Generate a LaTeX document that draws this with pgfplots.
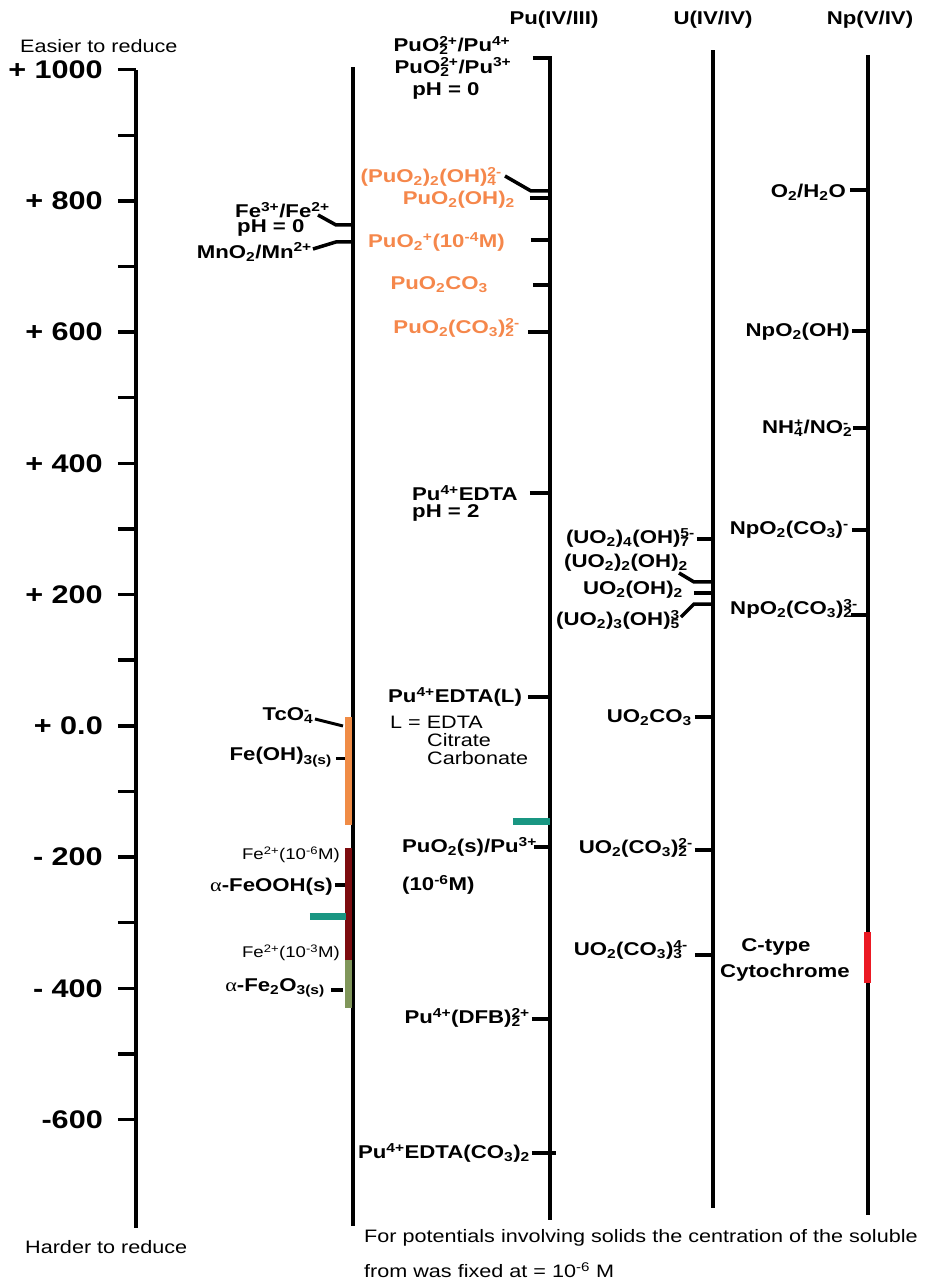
\documentclass[border=0pt]{standalone}
\usepackage{fontspec}
\setmainfont{Liberation Sans}[FakeStretch=1.2]
\newfontfamily\grk{Liberation Serif}[FakeStretch=1.2]
\usepackage{pgfplots}
\pgfplotsset{compat=1.18}

\definecolor{pucol}{RGB}{245,135,75}
\definecolor{barorange}{RGB}{240,140,70}
\definecolor{barred}{RGB}{125,12,15}
\definecolor{barolive}{RGB}{128,150,90}
\definecolor{barteal}{RGB}{25,150,130}
\definecolor{cytred}{RGB}{235,25,35}

\newcommand{\sub}[1]{\textsubscript{#1}}
\newcommand{\sps}[1]{\textsuperscript{#1}}
\newcommand{\subsup}[2]{\rlap{\textsubscript{#1}}\textsuperscript{#2}}

\begin{document}
\begin{tikzpicture}[
  lb/.style={font=\bfseries\fontsize{18.5}{20}\selectfont, inner sep=0pt},
  nm/.style={font=\fontsize{18}{20}\selectfont, inner sep=0pt},
  sm/.style={font=\fontsize{15.5}{17}\selectfont, inner sep=0pt},
  pu/.style={lb, text=pucol},
]
\begin{axis}[
  x=1pt, y=0.65625pt,
  xmin=136, xmax=930, ymin=-765, ymax=1000,
  enlargelimits=false, clip=false,
  axis x line=none, axis y line=left,
  axis line style={-},
  y axis line style={line width=4pt},
  ytick={-600,-400,...,1000},
  yticklabels={-600,- 400,- 200,+ 0.0,+ 200,+ 400,+ 600,+ 800,+ 1000},
  minor ytick={-500,-300,...,900},
  tick align=outside,
  major tick length=18pt, minor tick length=18pt,
  tick style={line width=3.5pt, black},
  yticklabel style={font=\bfseries\fontsize{25.5}{27}\selectfont, inner sep=0pt, anchor=east, xshift=-15pt},
]
% page frame
\coordinate (tl) at (axis cs:0,1106.13);
\coordinate (br) at (axis cs:930,-844.4);

% potential scales for each couple family
\addplot[line width=4pt] coordinates {(353,1004.0) (353,-762.1)};
\addplot[line width=4pt] coordinates {(533,1017.7) (550,1017.7) (550,-752.9)};
\addplot[line width=4pt] coordinates {(713,1029.9) (713,-734.6)};
\addplot[line width=4pt] coordinates {(868,1022.3) (868,-745.3)};

% leader lines and level marks
\addplot[line width=3.5pt] coordinates {(318,778.5) (336,763.3) (353,763.3)};
\addplot[line width=3.5pt] coordinates {(313,726.7) (336,737.4) (353,737.4)};
\addplot[line width=3pt] coordinates {(315,10.5) (343,-0.2)};
\addplot[line width=3.5pt] coordinates {(336,-49.9) (348,-49.9)};
\addplot[line width=3.5pt] coordinates {(335,-242.4) (348,-242.4)};
\addplot[line width=3.5pt] coordinates {(331,-402.4) (343,-402.4)};
\addplot[line width=3.5pt] coordinates {(505,837.9) (531,815.1) (550,815.1)};
\addplot[line width=3.5pt] coordinates {(530,804.4) (550,804.4)};
\addplot[line width=3.5pt] coordinates {(531,740.4) (550,740.4)};
\addplot[line width=3.5pt] coordinates {(533,671.8) (550,671.8)};
\addplot[line width=3.5pt] coordinates {(528,600.2) (550,600.2)};
\addplot[line width=3.5pt] coordinates {(530,354.9) (550,354.9)};
\addplot[line width=3.5pt] coordinates {(528,44.0) (550,44.0)};
\addplot[line width=3.5pt] coordinates {(534,-184.5) (550,-184.5)};
\addplot[line width=3.5pt] coordinates {(532,-446.6) (550,-446.6)};
\addplot[line width=3.5pt] coordinates {(532,-651.0) (556,-651.0)};
\addplot[line width=3.5pt] coordinates {(697,284.8) (713,284.8)};
\addplot[line width=3.5pt] coordinates {(679,233.0) (694,219.3) (713,219.3)};
\addplot[line width=3.5pt] coordinates {(694,202.5) (713,202.5)};
\addplot[line width=3.5pt] coordinates {(681,165.9) (694,185.7) (713,185.7)};
\addplot[line width=3.5pt] coordinates {(695,13.6) (713,13.6)};
\addplot[line width=3.5pt] coordinates {(695,-189.1) (713,-189.1)};
\addplot[line width=3.5pt] coordinates {(695,-349.1) (713,-349.1)};
\addplot[line width=3.5pt] coordinates {(850,816.6) (868,816.6)};
\addplot[line width=3.5pt] coordinates {(852,601.7) (868,601.7)};
\addplot[line width=3.5pt] coordinates {(853,453.9) (868,453.9)};
\addplot[line width=3.5pt] coordinates {(852,298.5) (868,298.5)};
\addplot[line width=3.5pt] coordinates {(851,169.0) (868,169.0)};

% coloured ranges
\addplot[line width=7pt, barorange] coordinates {(349,13.6) (349,-151.0)};
\addplot[line width=7pt, barred] coordinates {(349,-186.0) (349,-356.7)};
\addplot[line width=7pt, barolive] coordinates {(349,-356.7) (349,-429.9)};
\addplot[line width=7pt, barteal] coordinates {(310,-291.2) (346,-291.2)};
\addplot[line width=7pt, barteal] coordinates {(513,-146.4) (550,-146.4)};
\addplot[line width=7pt, cytred] coordinates {(868,-314.1) (868,-391.8)};

% scale captions
\node[nm, anchor=west] at (axis cs:20,1036.0) {Easier to reduce};
\node[nm, anchor=west] at (axis cs:25,-794.1) {Harder to reduce};

% column headers
\node[lb] at (axis cs:554,1075.7) {Pu(IV/III)};
\node[lb] at (axis cs:713,1075.7) {U(IV/IV)};
\node[lb] at (axis cs:870,1075.7) {Np(V/IV)};

% first scale
\node[lb, anchor=west] at (axis cs:235,786.1) {Fe\sps{3+}/Fe\sps{2+}};
\node[lb, anchor=west] at (axis cs:237,758.7) {pH = 0};
\node[lb, anchor=east] at (axis cs:312,722.1) {MnO\sub{2}/Mn\sps{2+}};
\node[lb, anchor=east] at (axis cs:310,15.1) {TcO\subsup{4}{-}};
\node[lb, anchor=east] at (axis cs:332,-47.4) {Fe(OH)\sub{3(s)}};
\node[sm, anchor=east] at (axis cs:340,-196.7) {Fe\sps{2+}(10\sps{-6}M)};
\node[lb, anchor=east] at (axis cs:333,-245.5) {{\grk\mdseries α}-FeOOH(s)};
\node[sm, anchor=east] at (axis cs:340,-346.0) {Fe\sps{2+}(10\sps{-3}M)};
\node[lb, anchor=east] at (axis cs:325,-399.4) {{\grk\mdseries α}-Fe\sub{2}O\sub{3(s)}};

% plutonium scale
\node[lb] at (axis cs:452,1036.5) {PuO\subsup{2}{2+}/Pu\sps{4+}};
\node[lb] at (axis cs:453,1004.0) {PuO\subsup{2}{2+}/Pu\sps{3+}};
\node[lb] at (axis cs:446,967.0) {pH = 0};
\node[pu, anchor=east] at (axis cs:502,836.4) {(PuO\sub{2})\sub{2}(OH)\subsup{4}{2-}};
\node[pu, anchor=east] at (axis cs:515,801.4) {PuO\sub{2}(OH)\sub{2}};
\node[pu, anchor=east] at (axis cs:505,737.4) {PuO\sub{2}\sps{+}(10\sps{-4}M)};
\node[pu, anchor=east] at (axis cs:488,671.8) {PuO\sub{2}CO\sub{3}};
\node[pu, anchor=east] at (axis cs:520,606.3) {PuO\sub{2}(CO\sub{3})\subsup{2}{2-}};
\node[lb, anchor=west] at (axis cs:412,354.9) {Pu\sps{4+}EDTA};
\node[lb, anchor=west] at (axis cs:412,324.4) {pH = 2};
\node[lb, anchor=west] at (axis cs:388,44.0) {Pu\sps{4+}EDTA(L)};
\node[nm, anchor=west] at (axis cs:390,6.0) {L = EDTA};
\node[nm, anchor=west] at (axis cs:427,-21.5) {Citrate};
\node[nm, anchor=west] at (axis cs:427,-48.9) {Carbonate};
\node[lb, anchor=west] at (axis cs:402,-184.5) {PuO\sub{2}(s)/Pu\sps{3+}};
\node[lb, anchor=west] at (axis cs:402,-242.4) {(10\sps{-6}M)};
\node[lb, anchor=east] at (axis cs:530,-445.1) {Pu\sps{4+}(DFB)\subsup{2}{2+}};
\node[lb, anchor=east] at (axis cs:530,-650.8) {Pu\sps{4+}EDTA(CO\sub{3})\sub{2}};

% uranium scale
\node[lb, anchor=east] at (axis cs:695,286.3) {(UO\sub{2})\sub{4}(OH)\subsup{7}{5-}};
\node[lb, anchor=east] at (axis cs:688,248.2) {(UO\sub{2})\sub{2}(OH)\sub{2}};
\node[lb, anchor=east] at (axis cs:683,207.1) {UO\sub{2}(OH)\sub{2}};
\node[lb, anchor=east] at (axis cs:680,161.4) {(UO\sub{2})\sub{3}(OH)\subsup{5}{3}};
\node[lb, anchor=east] at (axis cs:692,12.0) {UO\sub{2}CO\sub{3}};
\node[lb, anchor=east] at (axis cs:693,-186.1) {UO\sub{2}(CO\sub{3})\subsup{2}{2-}};
\node[lb, anchor=east] at (axis cs:688,-341.5) {UO\sub{2}(CO\sub{3})\subsup{3}{4-}};

% neptunium scale
\node[lb, anchor=east] at (axis cs:846,813.6) {O\sub{2}/H\sub{2}O};
\node[lb, anchor=east] at (axis cs:850,600.2) {NpO\sub{2}(OH)};
\node[lb, anchor=east] at (axis cs:849,453.9) {NH\subsup{4}{+}/NO\subsup{2}{-}};
\node[lb, anchor=east] at (axis cs:849,298.5) {NpO\sub{2}(CO\sub{3})\sps{-}};
\node[lb, anchor=east] at (axis cs:858,178.1) {NpO\sub{2}(CO\sub{3})\subsup{2}{3-}};
\node[lb] at (axis cs:776,-336.9) {C-type};
\node[lb] at (axis cs:785,-376.5) {Cytochrome};

% footnote
\node[nm, anchor=west] at (axis cs:364,-780.3) {For potentials involving solids the centration of the soluble};
\node[nm, anchor=west] at (axis cs:364,-829.1) {from was fixed at = 10\sps{-6} M};
\end{axis}
\pgfresetboundingbox
\path[use as bounding box] (tl) rectangle (br);
\end{tikzpicture}
\end{document}
